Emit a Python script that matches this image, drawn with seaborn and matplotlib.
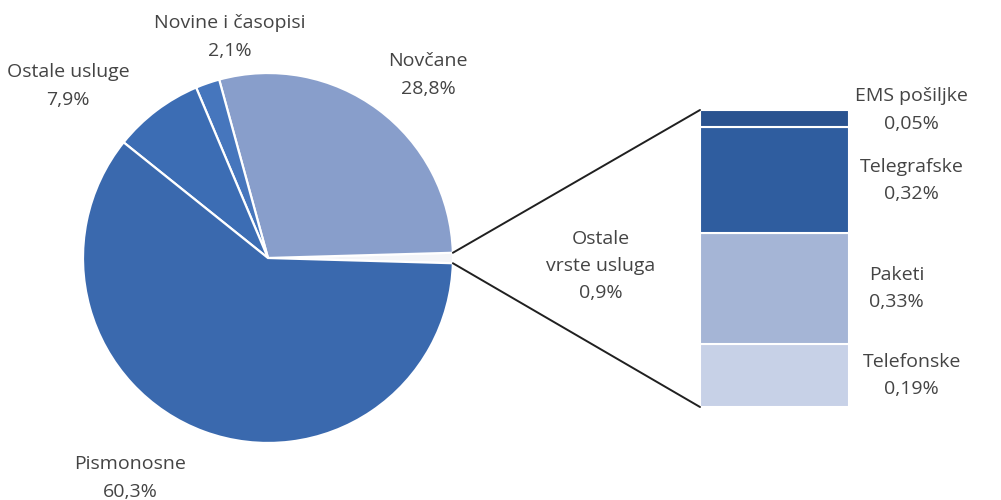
import numpy as np
import seaborn as sns
import matplotlib.pyplot as plt
from matplotlib.patches import ConnectionPatch

# pie data (share of total, %)
pie_labels = ['Ostale vrste usluga', 'Novčane', 'Novine i časopisi', 'Ostale usluge', 'Pismonosne']
pie_values = [0.9, 28.8, 2.1, 7.9, 60.3]
pie_text = ['Ostale\nvrste usluga\n0,9%', 'Novčane\n28,8%', 'Novine i časopisi\n2,1%',
            'Ostale usluge\n7,9%', 'Pismonosne\n60,3%']
pie_colors = ['#f4f5f8', '#889ecb', '#4676bd', '#3c6db4', '#3a69ae']

# breakdown of "Ostale vrste usluga" (bottom to top)
bar_labels = ['Telefonske', 'Paketi', 'Telegrafske', 'EMS pošiljke']
bar_values = [0.19, 0.33, 0.32, 0.05]
bar_text = ['Telefonske\n0,19%', 'Paketi\n0,33%', 'Telegrafske\n0,32%', 'EMS pošiljke\n0,05%']
bar_colors = ['#c7d1e7', '#a5b5d6', '#2f5d9f', '#2a5390']

sns.set_theme(style='white')
plt.rcParams['font.family'] = ['Open Sans', 'DejaVu Sans']
txt_color = '#444444'
fs = 14
ls = 1.65

fig = plt.figure(figsize=(10.01, 5.0), dpi=100)

# pie
ax_pie = fig.add_axes([0.0829, 0.114, 0.3696, 0.74])
start = -pie_values[0] / 100 * 360 / 2
wedges, _ = ax_pie.pie(pie_values, colors=pie_colors, startangle=start, counterclock=True,
                       radius=1, wedgeprops=dict(edgecolor='white', linewidth=1.6))
ax_pie.set_xlim(-1, 1)
ax_pie.set_ylim(-1, 1)
ax_pie.set_aspect('equal')
ax_pie.axis('off')

# pie labels
label_pos = {
    'Ostale vrste usluga': (601, 266),
    'Novčane': (428, 75),
    'Novine i časopisi': (230, 37),
    'Ostale usluge': (68, 86),
    'Pismonosne': (130, 478),
}
for lab, t in zip(pie_labels, pie_text):
    px, py = label_pos[lab]
    fig.text(px / 1001, 1 - py / 500, t, ha='center', va='center', fontsize=fs,
             color=txt_color, linespacing=ls)

# stacked bar
ax_bar = fig.add_axes([0.6993, 0.186, 0.1489, 0.594])
total = sum(bar_values)
bottom = 0
for lab, v, c, t in zip(bar_labels, bar_values, bar_colors, bar_text):
    ax_bar.bar(0, v, bottom=bottom, width=1, color=c, edgecolor='white', linewidth=1.5)
    mid = bottom + v / 2
    xoff = 1.32 if lab == 'Paketi' else 1.42
    if lab == 'EMS pošiljke':
        mid += 0.025
    ax_bar.text(xoff, mid, t, transform=ax_bar.get_yaxis_transform(), ha='center', va='center',
                fontsize=fs, color=txt_color, linespacing=ls)
    bottom += v
ax_bar.set_xlim(-0.5, 0.5)
ax_bar.set_ylim(0, total)
ax_bar.axis('off')

# connecting lines
th1 = np.deg2rad(wedges[0].theta1)
th2 = np.deg2rad(wedges[0].theta2)
for th, yb in [(th2, total), (th1, 0)]:
    con = ConnectionPatch(xyA=(np.cos(th), np.sin(th)), coordsA=ax_pie.transData,
                          xyB=(-0.5, yb), coordsB=ax_bar.transData,
                          color='#202020', linewidth=1.4)
    fig.add_artist(con)

fig.savefig('out.png', dpi=100, facecolor='white')
